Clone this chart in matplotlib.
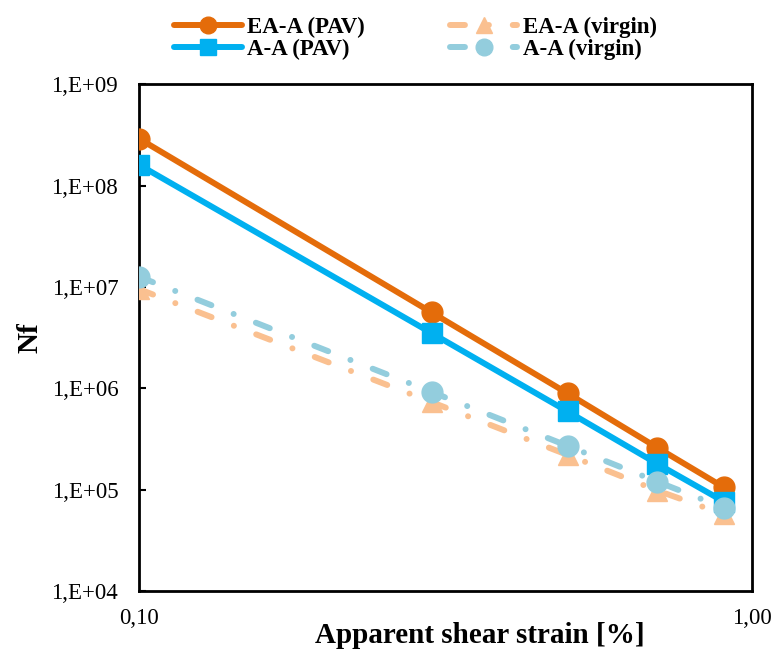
import numpy as np
import matplotlib
matplotlib.use("Agg")
import matplotlib.pyplot as plt
from matplotlib.ticker import FixedLocator, FuncFormatter, NullLocator

# shear strain [%]
strain = [0.1, 0.3, 0.5, 0.7, 0.9]

# fatigue life Nf
ea_a_pav = [2.9e8, 5.6e6, 8.9e5, 2.6e5, 1.05e5]
a_a_pav = [1.6e8, 3.5e6, 5.9e5, 1.8e5, 7.6e4]
ea_a_virgin = [9.5e6, 7.3e5, 2.2e5, 9.8e4, 5.7e4]
a_a_virgin = [1.26e7, 9.2e5, 2.7e5, 1.2e5, 6.6e4]

series_labels = ["EA-A (PAV)", "A-A (PAV)", "EA-A (virgin)", "A-A (virgin)"]

plt.rcParams['font.family'] = ['Liberation Serif', 'DejaVu Serif']

fig = plt.figure(figsize=(7.77, 6.68), dpi=100)
ax = fig.add_axes([0.179, 0.1153, 0.789, 0.7587])

# long dash - dot, in units of line width
dashdot = (0, (2.5, 4, 0.01, 4))
lw = 4.3

l1, = ax.plot(strain, ea_a_pav, color='#E46C0A', lw=lw, marker='o', ms=15,
              solid_capstyle='round', label=series_labels[0], zorder=3)
l2, = ax.plot(strain, a_a_pav, color='#00B0F0', lw=lw, marker='s', ms=14,
              solid_capstyle='round', label=series_labels[1], zorder=4)
l3, = ax.plot(strain, ea_a_virgin, color='#FAC090', lw=lw, marker='^', ms=15,
              linestyle=dashdot, dash_capstyle='round', label=series_labels[2], zorder=5)
l4, = ax.plot(strain, a_a_virgin, color='#93CDDD', lw=lw, marker='o', ms=15,
              linestyle=dashdot, dash_capstyle='round', label=series_labels[3], zorder=6)

ax.set_xscale('log')
ax.set_yscale('log')
ax.set_xlim(0.1, 1.0)
ax.set_ylim(1e4, 1e9)

ax.xaxis.set_major_locator(FixedLocator([0.1, 1.0]))
ax.xaxis.set_minor_locator(NullLocator())
ax.xaxis.set_major_formatter(FuncFormatter(lambda v, p: f"{v:.2f}".replace('.', ',')))
ax.yaxis.set_major_locator(FixedLocator([1e4, 1e5, 1e6, 1e7, 1e8, 1e9]))
ax.yaxis.set_minor_locator(NullLocator())
ax.yaxis.set_major_formatter(FuncFormatter(lambda v, p: f"1,E+{int(round(np.log10(v))):02d}"))

ax.tick_params(axis='y', direction='in', length=5, width=1.5, labelsize=16.5, pad=15)
ax.tick_params(axis='x', length=0, labelsize=16.5, pad=12)
for s in ax.spines.values():
    s.set_linewidth(2)
    s.set_color('black')

ax.set_xlabel("Apparent shear strain [%]", fontsize=21, fontweight='bold')
ax.xaxis.set_label_coords(0.556, -0.062)
ax.set_ylabel("Nf", fontsize=21, fontweight='bold', labelpad=6)

fig.legend(handles=[l1, l2, l3, l4], labels=series_labels,
           ncol=2, loc='upper left', bbox_to_anchor=(174 / 777, 0.975), frameon=False,
           prop={'weight': 'bold', 'size': 16.5}, handlelength=2.95, columnspacing=3.7,
           handletextpad=0.25, labelspacing=0.05, markerscale=0.8, borderpad=0,
           borderaxespad=0)

fig.savefig("out.png", dpi=100)
